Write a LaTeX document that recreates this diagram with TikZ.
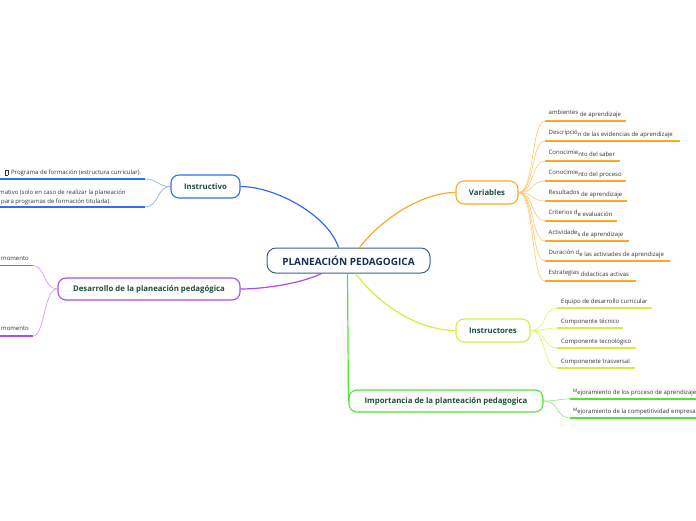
\documentclass[tikz,border=0pt]{standalone}
\usepackage{fontspec}
\setmainfont{Open Sans}
\usetikzlibrary{calc}
\definecolor{cblue}{HTML}{2F6DF6}
\definecolor{cpurple}{HTML}{B04AE8}
\definecolor{corange}{HTML}{FFA726}
\definecolor{corangel}{HTML}{FFC870}
\definecolor{cyel}{HTML}{D2F03A}
\definecolor{cgreen}{HTML}{4EE62E}
\definecolor{cborder}{HTML}{3A6090}
\definecolor{navy}{HTML}{1C2E5A}
\definecolor{tgreen}{HTML}{1E4D3B}
\definecolor{tgray}{HTML}{333333}
\begin{document}
\begin{tikzpicture}[x=1pt,y=-1pt,
  topic/.style={draw, rounded corners=8pt, line width=1.1pt, fill=white,
    font=\bfseries\fontsize{7.8}{9}\selectfont, text=tgreen, minimum height=22pt, inner sep=0pt},
  item/.style={anchor=base west, inner sep=0pt, font=\fontsize{6}{7}\selectfont, text=tgray},
  uline/.style={line width=1.6pt},
  twig/.style={line width=0.6pt},
  branch/.style={line width=1.2pt}]
\useasboundingbox (0,0) rectangle (696,520);

% central and main topics
\node[draw=cborder, rounded corners=9pt, line width=1pt, fill=white, minimum width=163pt,
  minimum height=25pt, inner sep=0pt, font=\bfseries\fontsize{10}{12}\selectfont, text=navy]
  (c) at (348.5,260.5) {PLANEACIÓN PEDAGOGICA};
\node[topic, draw=cblue, minimum width=69pt, minimum height=23pt] (ins) at (205.5,186.5) {Instructivo};
\node[topic, draw=cpurple, minimum width=182pt] (des) at (149,289) {Desarrollo de la planeación pedagógica};
\node[topic, draw=corange, minimum width=62pt, minimum height=23pt] (var) at (487,192.5) {Variables};
\node[topic, draw=cyel, minimum width=74pt, minimum height=23pt] (ist) at (493,330.5) {Instructores};
\node[topic, draw=cgreen, minimum width=194pt] (imp) at (446,401) {Importancia de la planteación pedagogica};

% main branches
\coordinate (cb) at ($(c.north)+(-10,0)$);
\coordinate (co) at ($(c.north)+(11,0)$);
\coordinate (cp) at ($(c.south)+(-27,0)$);
\coordinate (cy) at ($(c.south)+(7,0)$);
\draw[branch, cblue] (cb) .. controls (328,215) and (275,186.5) .. (ins.east);
\draw[branch, corange] (co) .. controls (385,215) and (425,192.5) .. (var.west);
\draw[branch, cpurple] (cp) .. controls (300,284) and (262,289) .. (des.east);
\draw[branch, cgreen] ($(c.south)+(-1,0)$) -- (imp.west);
\draw[branch, cyel] (cy) .. controls (385,312) and (425,330.5) .. (ist.west);

% Instructivo items
\coordinate (i1s) at (145,179); \coordinate (i1e) at (-2,179);
\coordinate (i2s) at (145,207); \coordinate (i2e) at (-2,207);
\draw[uline, cblue] (i1s) -- (i1e);
\draw[uline, cblue] (i2s) -- (i2e);
\draw[twig, cblue!60] (ins.west) .. controls +(-14,0) and +(14,0) .. (i1s);
\draw[twig, cblue!60] (ins.west) .. controls +(-14,0) and +(14,0) .. (i2s);
\node[item] (i1t) at (5,174.5) {{\setlength\fboxsep{0pt}\setlength\fboxrule{0.3pt}\fbox{\rule{0pt}{4pt}\hspace{2.2pt}}}\ \ Programa de formación (estructura curricular).};
\node[item] (i2a) at (-1,194.5) {mativo (solo en caso de realizar la planeación};
\node[item] (i2b) at (1,203) {para programas de formación titulada).};

% Desarrollo items
\coordinate (d1s) at (33,265.5); \coordinate (d1e) at (-2,265.5);
\coordinate (d2s) at (33,336); \coordinate (d2e) at (-2,336);
\draw[uline, cpurple] (d1s) -- (d1e);
\draw[uline, cpurple] (d2s) -- (d2e);
\draw[twig, cpurple!60] (des.west) .. controls +(-14,0) and +(12,0) .. (d1s);
\draw[twig, cpurple!60] (des.west) .. controls +(-14,0) and +(12,0) .. (d2s);
\node[item] (d1t) at (1,260) {momento};
\node[item] (d2t) at (1,330.5) {momento};

% Variables items
\foreach \i/\y/\xe/\a/\b in {
  1/121/626/ambientes/~de aprendizaje,
  2/141/680/Descripció/n de las evidencias de aprendizaje,
  3/161/620/Conocimie/nto del saber,
  4/181/626/Conocimie/nto del proceso,
  5/201/627/Resultados/~de aprendizaje,
  6/221/617/Criterios d/e evaluación,
  7/241/629/Actividade/s de aprendizaje,
  8/261/670/Duración d/e las activiades de aprendizaje,
  9/281/636/Estrategias/~didacticas activas}{
  \coordinate (v\i s) at (545,\y);
  \coordinate (v\i e) at (\xe,\y);
  \draw[uline, corange] (v\i s) -- (v\i e);
  \draw[twig, corangel] (var.east) .. controls +(16,0) and +(-14,0) .. (v\i s);
  \node[item] (v\i t) at (548.5,\y-5) {\raisebox{1.3pt}{\a}\b};
}

% Instructores items
\foreach \i/\y/\xe/\t in {
  1/308/652/Equipo de desarrollo curricular,
  2/328/623/Componente técnico,
  3/348/636/Componente tecnológico,
  4/368/635/Componenete trasversal}{
  \coordinate (y\i s) at (557,\y);
  \coordinate (y\i e) at (\xe,\y);
  \draw[uline, cyel] (y\i s) -- (y\i e);
  \draw[twig, cyel!80] (ist.east) .. controls +(16,0) and +(-14,0) .. (y\i s);
  \node[item] (y\i t) at (561,\y-5) {\t};
}

% Importancia items
\foreach \i/\y/\t in {
  1/399/ejoramiento de los proceso de aprendizaje,
  2/418/ejoramiento de la competitividad empresa}{
  \coordinate (g\i s) at (570,\y);
  \coordinate (g\i e) at (700,\y);
  \draw[uline, cgreen] (g\i s) -- (g\i e);
  \draw[twig, cgreen!70] (imp.east) .. controls +(16,0) and +(-14,0) .. (g\i s);
  \node[item] (g\i t) at (573,\y-5) {\raisebox{1.3pt}{\fontsize{4.6}{5}\selectfont M}\t};
}
\end{tikzpicture}
\end{document}
